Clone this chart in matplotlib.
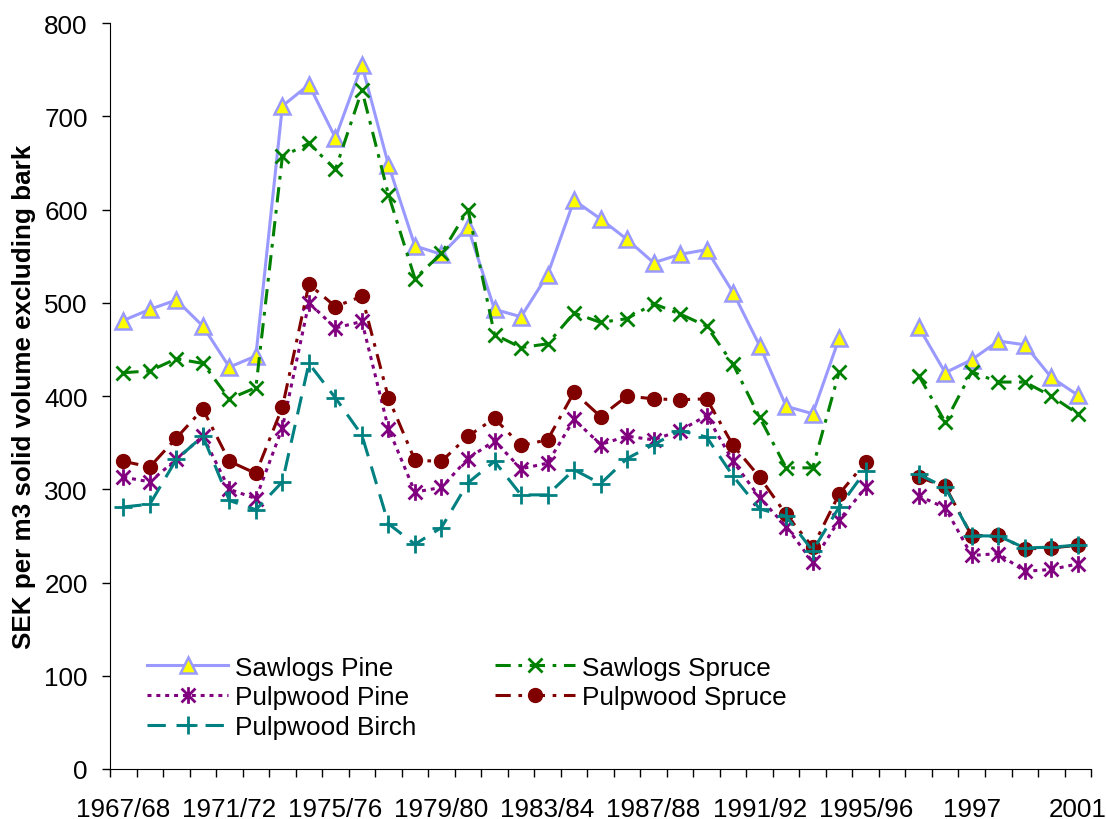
import numpy as np
import matplotlib
matplotlib.use("Agg")
import matplotlib.pyplot as plt
from matplotlib.path import Path

nan = np.nan

# category labels (old crop-year series, then calendar years)
periods = ['1967/68', '1968/69', '1969/70', '1970/71', '1971/72', '1972/73', '1973/74',
           '1974/75', '1975/76', '1976/77', '1977/78', '1978/79', '1979/80', '1980/81',
           '1981/82', '1982/83', '1983/84', '1984/85', '1985/86', '1986/87', '1987/88',
           '1988/89', '1989/90', '1990/91', '1991/92', '1992/93', '1993/94', '1994/95',
           '1995/96', '', '1995', '1996', '1997', '1998', '1999', '2000', '2001']

sawlogs_pine = [481, 493, 503, 475, 431, 443, 711, 734, 677, 755, 648, 561, 552, 581,
                493, 485, 530, 610, 590, 568, 543, 552, 557, 511, 454, 389, 381, 462,
                nan, nan, 474, 425, 439, 459, 455, 420, 401]
sawlogs_spruce = [425, 427, 440, 435, 397, 409, 657, 671, 643, 728, 616, 526, 553, 600,
                  466, 452, 456, 489, 479, 483, 499, 488, 475, 434, 377, 323, 323, 426,
                  nan, nan, 422, 372, 426, 415, 415, 400, 381]
pulpwood_pine = [313, 308, 332, 357, 300, 290, 366, 500, 473, 480, 365, 297, 302, 333,
                 352, 322, 328, 375, 348, 357, 353, 363, 379, 330, 291, 260, 222, 267,
                 302, nan, 293, 280, 229, 231, 212, 214, 220]
pulpwood_spruce = [330, 324, 355, 386, 330, 317, 388, 520, 496, 507, 398, 331, 330, 357,
                   376, 347, 353, 404, 378, 400, 397, 396, 397, 347, 313, 273, 238, 295,
                   329, nan, 313, 303, 250, 251, 236, 237, 240]
pulpwood_birch = [281, 284, 332, 357, 288, 278, 308, 435, 398, 358, 263, 241, 259, 307,
                  330, 294, 294, 321, 306, 333, 348, 363, 356, 314, 279, 271, 234, 281,
                  320, nan, 316, 302, 250, 250, 237, 238, 240]

plt.rcParams['font.family'] = ['Liberation Sans', 'DejaVu Sans']
plt.rcParams['font.size'] = 18.7

# excel style "star" marker: X with a vertical bar
star = Path([(-1, -1), (1, 1), (-1, 1), (1, -1), (0, -1.2), (0, 1.2)],
            [Path.MOVETO, Path.LINETO, Path.MOVETO, Path.LINETO, Path.MOVETO, Path.LINETO])

fig = plt.figure(figsize=(11.06, 8.2), dpi=100)
ax = fig.add_axes([0.0995, 0.061, 0.887, 0.9096])

x = np.arange(len(periods))

l1, = ax.plot(x, sawlogs_pine, color='#9999FF', lw=2.2, marker='^', ms=12,
              mfc='#FFFF00', mec='#9999FF', mew=1.8, label='Sawlogs Pine')
l2, = ax.plot(x, sawlogs_spruce, color='#008000', lw=2.2, dashes=(5, 2.5, 1.2, 2.5),
              marker='x', ms=10, mew=2, mec='#008000', label='Sawlogs Spruce')
l3, = ax.plot(x, pulpwood_pine, color='#800080', lw=2.2, dashes=(1.3, 1.6),
              marker=star, ms=12, mew=2, mec='#800080', mfc='none', label='Pulpwood Pine')
l4, = ax.plot(x, pulpwood_spruce, color='#800000', lw=2.2, dashes=(5, 2.5, 1.2, 2.5),
              marker='o', ms=10, mfc='#800000', mec='#800000', label='Pulpwood Spruce')
l5, = ax.plot(x, pulpwood_birch, color='#008080', lw=2.2, dashes=(6, 3.5),
              marker='+', ms=13, mew=2, mec='#008080', label='Pulpwood Birch')

ax.set_xlim(-0.5, len(periods) - 0.5)
ax.set_ylim(0, 800)
ax.set_yticks(range(0, 801, 100))

ax.set_xticks(x[::4])
ax.set_xticklabels(periods[::4])
ax.set_xticks(np.arange(len(periods) + 1) - 0.5, minor=True)
ax.tick_params(axis='x', which='major', length=0, pad=20)
ax.tick_params(axis='x', which='minor', length=6, width=1)
ax.tick_params(axis='y', length=6, width=1, pad=10)

ax.spines['top'].set_visible(False)
ax.spines['right'].set_visible(False)

ax.set_ylabel('SEK per m3 solid volume excluding bark', fontweight='bold', labelpad=6)

leg = ax.legend([l1, l3, l5, l2, l4],
                ['Sawlogs Pine', 'Pulpwood Pine', 'Pulpwood Birch', 'Sawlogs Spruce', 'Pulpwood Spruce'],
                ncol=2, loc='upper left', bbox_to_anchor=(0.038, 0.152), frameon=False,
                borderpad=0, borderaxespad=0, handlelength=3.1, handletextpad=0.25,
                columnspacing=3.0, labelspacing=0.22, fontsize=18.8)

fig.savefig('out.png', dpi=100)
